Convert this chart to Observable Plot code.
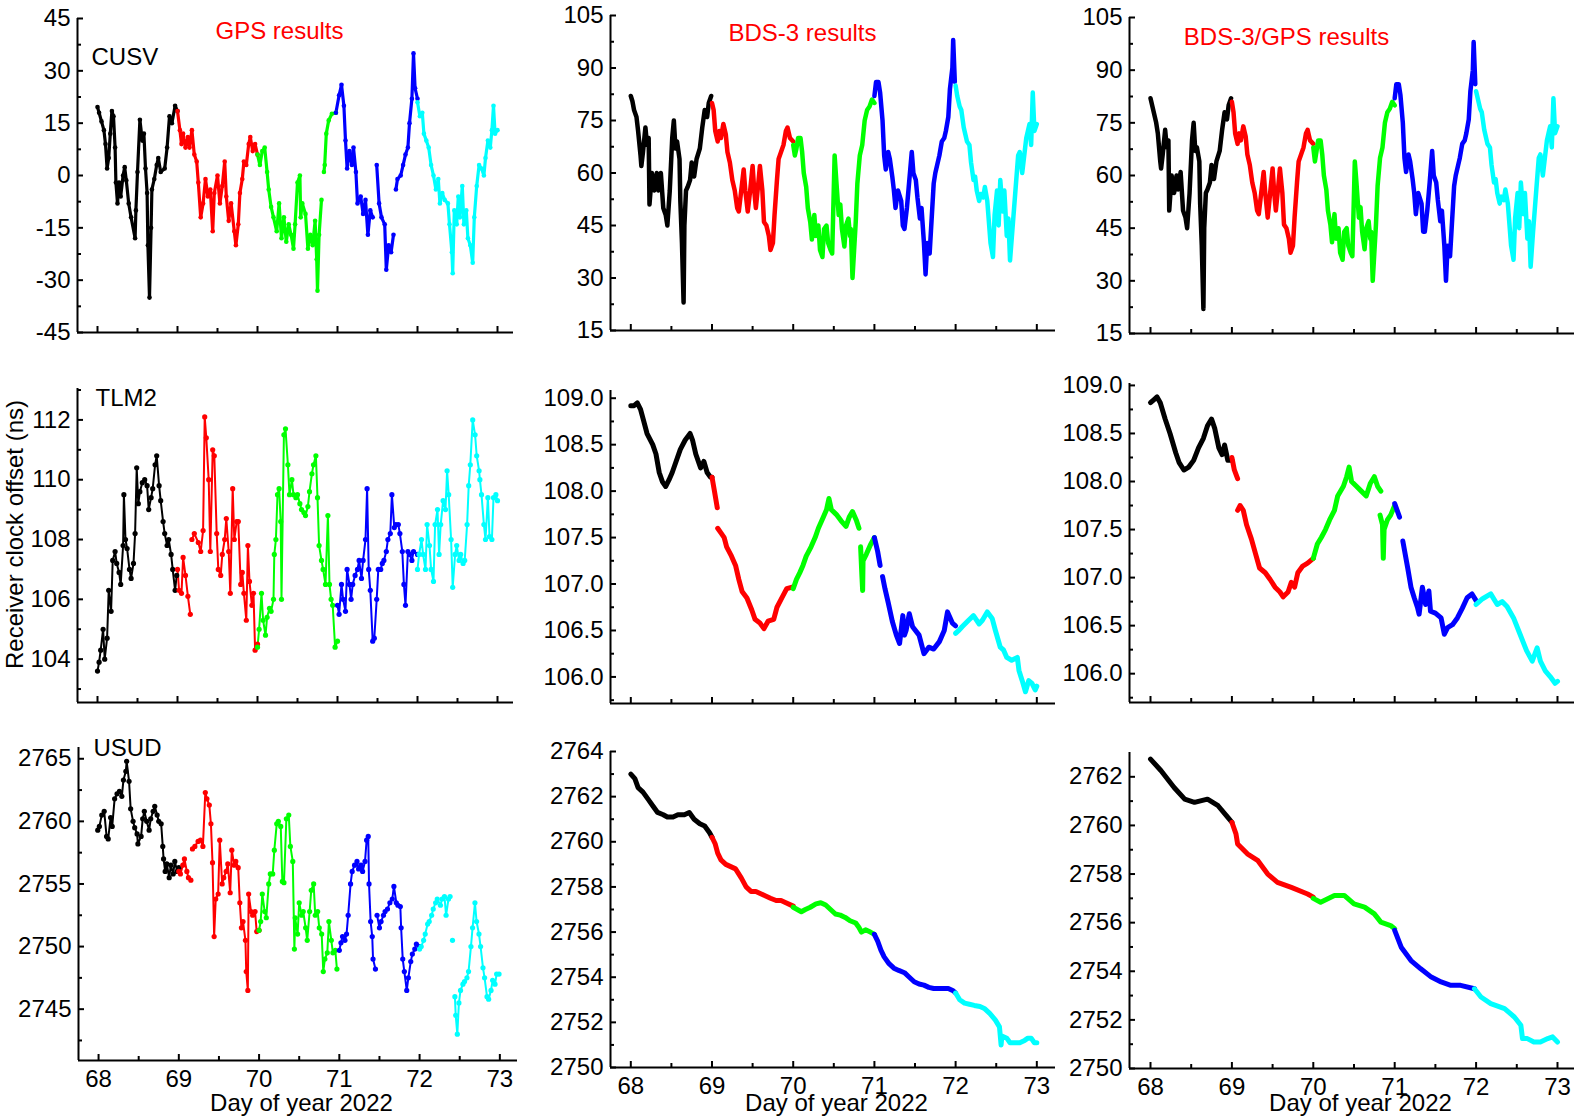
<!DOCTYPE html>
<html>
<head>
<meta charset="utf-8">
<script src="https://cdn.jsdelivr.net/npm/d3@7"></script>
<script src="https://cdn.jsdelivr.net/npm/@observablehq/plot@0.6"></script>
<style>
  body { margin: 0; background: #fff; }
  #root { position: relative; width: 1594px; height: 1120px; overflow: hidden; font-family: "Liberation Sans", Arial, sans-serif; }
  .panel { position: absolute; }
</style>
</head>
<body>
<div id="root"></div>
<script>
// ---------- categories / labels ----------
const segmentColors = ["#000000", "#ff0000", "#00ff00", "#0000ff", "#00ffff"];
const columnTitles = ["GPS results", "BDS-3 results", "BDS-3/GPS results"];
const stationNames = ["CUSV", "TLM2", "USUD"];
const xAxisTitle = "Day of year 2022";
const yAxisTitle = "Receiver clock offset (ns)";

// ---------- tick values ----------
const xMajor = [68, 69, 70, 71, 72, 73];
const xMinor = [68.5, 69.5, 70.5, 71.5, 72.5];
const cusvGpsTicks = [-45, -30, -15, 0, 15, 30, 45];
const cusvGpsMinor = [-37.5, -22.5, -7.5, 7.5, 22.5, 37.5];
const cusvBdsTicks = [15, 30, 45, 60, 75, 90, 105];
const cusvBdsMinor = [22.5, 37.5, 52.5, 67.5, 82.5, 97.5];
const tlm2GpsTicks = [104, 106, 108, 110, 112];
const tlm2GpsMinor = [103, 105, 107, 109, 111, 113];
const tlm2BdsTicks = [106.0, 106.5, 107.0, 107.5, 108.0, 108.5, 109.0];
const tlm2BdsMinor = [105.75, 106.25, 106.75, 107.25, 107.75, 108.25, 108.75];
const usudGpsTicks = [2745, 2750, 2755, 2760, 2765];
const usudGpsMinor = [2742.5, 2747.5, 2752.5, 2757.5, 2762.5];
const usudBdsTicks = [2750, 2752, 2754, 2756, 2758, 2760, 2762, 2764];
const usudBdsMinor = [2751, 2753, 2755, 2757, 2759, 2761, 2763];
const usudMixTicks = [2750, 2752, 2754, 2756, 2758, 2760, 2762];
const usudMixMinor = [2751, 2753, 2755, 2757, 2759, 2761];

// ---------- series: [day, clock offset (ns)], one list per day (colour) ----------
const cusvGps = [
 [[68.0,19.6],[68.02,18],[68.05,15.5],[68.08,13],[68.10,9],[68.12,2],[68.14,5],[68.16,12],[68.18,18.5],[68.20,17],[68.22,8],[68.23,-2],[68.25,-8],[68.27,-2],[68.29,-6],[68.32,0],[68.34,2.4],[68.36,-1.4],[68.39,-8],[68.42,-12],[68.47,-18],[68.48,-10],[68.50,1],[68.53,16],[68.56,10],[68.58,12],[68.60,2],[68.62,-5],[68.63,-20],[68.65,-35],[68.67,-15],[68.68,-4],[68.71,-1],[68.74,3],[68.76,5],[68.79,1],[68.84,2],[68.87,8],[68.90,17],[68.93,15],[68.97,20],[69.0,18.5]],
 [[69.0,18.5],[69.03,13],[69.05,9],[69.07,12],[69.10,8],[69.13,11],[69.15,8],[69.18,13],[69.21,6],[69.24,4],[69.26,-2],[69.29,-12],[69.32,-8],[69.35,-1],[69.38,-6],[69.41,-4],[69.44,-16],[69.46,-5],[69.50,0],[69.53,-8],[69.56,-3],[69.59,4],[69.61,-6],[69.64,-13],[69.67,-8],[69.71,-16],[69.73,-20],[69.76,-14],[69.78,-5],[69.81,-1],[69.83,4],[69.86,3],[69.89,9],[69.91,11],[69.94,7],[69.97,9],[70.0,6]],
 [[70.0,6],[70.03,3],[70.06,7],[70.09,8],[70.12,1],[70.14,-4],[70.17,-9],[70.20,-12],[70.24,-16],[70.27,-8],[70.30,-18],[70.33,-12],[70.36,-19],[70.39,-14],[70.42,-17],[70.45,-21],[70.47,-14],[70.50,-2],[70.53,0],[70.54,-12],[70.56,-8],[70.60,-11],[70.63,-21],[70.66,-17],[70.69,-20],[70.72,-13],[70.74,-24],[70.75,-33],[70.77,-17],[70.80,-7],[70.81,null],[70.83,1],[70.84,3],[70.86,12],[70.89,15.8],[70.93,17.7],[70.98,18]],
 [[70.98,18],[71.02,23],[71.05,26],[71.08,20],[71.10,10],[71.12,2],[71.15,7],[71.18,3],[71.20,8],[71.23,1],[71.25,-8],[71.29,-6],[71.32,-11],[71.35,-7],[71.38,-17],[71.41,-10],[71.44,-12],[71.47,null],[71.49,3],[71.52,-8],[71.55,-12],[71.59,-14],[71.61,-27],[71.64,-20],[71.67,-22],[71.70,-17],[71.71,null],[71.73,-4],[71.75,-1],[71.79,0],[71.82,3],[71.85,6],[71.88,8],[71.90,15],[71.93,22],[71.95,35],[71.97,25],[72.0,22]],
 [[72.0,21],[72.03,17],[72.06,18],[72.08,12],[72.11,10],[72.14,8],[72.17,3],[72.20,0],[72.23,-4],[72.26,-1],[72.28,-8],[72.31,-5],[72.34,-7],[72.38,-8],[72.40,-14],[72.43,-22],[72.44,-28],[72.46,-10],[72.49,-14],[72.51,-6],[72.53,-12],[72.56,-3],[72.58,-14],[72.61,-10],[72.63,-18],[72.66,-20],[72.69,-25],[72.71,-12],[72.74,-3],[72.77,3],[72.80,2],[72.83,0],[72.85,5],[72.88,10],[72.91,8],[72.93,13],[72.95,20],[72.97,12],[73.0,13]]
];

const cusvBds = [
 [[68.0,82],[68.02,80.5],[68.04,78],[68.07,76],[68.09,72],[68.12,65],[68.13,62],[68.15,66],[68.18,73],[68.20,68],[68.22,70],[68.23,51],[68.26,60],[68.29,55],[68.32,60],[68.34,55],[68.37,60],[68.40,50],[68.43,48],[68.45,45],[68.48,55],[68.51,70],[68.53,75],[68.55,67],[68.57,69],[68.60,64],[68.61,52],[68.63,40],[68.65,23],[68.66,45],[68.68,55],[68.70,56],[68.73,58],[68.75,63],[68.78,59],[68.81,64],[68.85,67],[68.88,73],[68.91,78],[68.94,76],[68.96,80],[68.99,82]],
 [[69.0,80],[69.02,78],[69.04,72],[69.07,69],[69.09,72],[69.11,70],[69.14,74],[69.17,71],[69.19,66],[69.22,63],[69.25,58],[69.28,55],[69.31,50],[69.33,49],[69.36,55],[69.39,61],[69.41,55],[69.44,49],[69.47,55],[69.50,62],[69.52,55],[69.54,50],[69.57,57],[69.59,62],[69.62,55],[69.64,46],[69.67,45],[69.70,42],[69.72,38],[69.75,40],[69.77,48],[69.80,58],[69.82,64],[69.85,66],[69.88,68],[69.91,72],[69.93,73],[69.96,70],[70.0,69]],
 [[70.0,68],[70.02,65],[70.04,67],[70.06,70],[70.09,70],[70.11,66],[70.13,60],[70.16,56],[70.18,50],[70.21,46],[70.23,41],[70.26,48],[70.28,42],[70.31,45],[70.33,38],[70.36,36],[70.38,44],[70.41,45],[70.43,40],[70.46,38],[70.48,37],[70.51,65],[70.53,58],[70.56,48],[70.58,51],[70.60,44],[70.63,39],[70.65,45],[70.68,47],[70.70,42],[70.71,44],[70.73,30],[70.77,46],[70.79,57],[70.82,65],[70.85,68],[70.88,75],[70.91,78],[70.94,79],[70.97,81],[71.0,80]],
 [[71.0,82],[71.02,86],[71.05,86],[71.07,83],[71.10,75],[71.12,65],[71.14,61],[71.17,66],[71.19,64],[71.22,59],[71.24,55],[71.26,50],[71.29,55],[71.33,52],[71.35,45],[71.37,44],[71.40,50],[71.43,58],[71.46,66],[71.48,60],[71.51,58],[71.53,53],[71.56,47],[71.58,50],[71.61,40],[71.63,31],[71.65,40],[71.68,37],[71.70,45],[71.73,57],[71.75,60],[71.78,63],[71.80,65],[71.83,69],[71.86,70],[71.88,72],[71.91,76],[71.93,84],[71.96,90],[71.97,98],[71.99,86]],
 [[72.0,85],[72.02,82],[72.05,79],[72.07,78],[72.10,73],[72.12,71],[72.14,69],[72.17,68],[72.19,63],[72.22,58],[72.24,59],[72.26,55],[72.29,52],[72.31,54],[72.34,53],[72.36,56],[72.39,52],[72.41,46],[72.43,40],[72.46,36],[72.48,48],[72.51,55],[72.53,45],[72.55,58],[72.58,49],[72.60,55],[72.63,42],[72.65,47],[72.67,35],[72.70,44],[72.72,50],[72.74,56],[72.77,65],[72.79,66],[72.82,60],[72.84,64],[72.87,70],[72.89,72],[72.91,74],[72.93,68],[72.95,83],[72.97,72],[73.0,74]]
];

const cusvMix = [
 [[68.0,82],[68.02,80],[68.04,78],[68.07,75],[68.09,72],[68.12,64],[68.13,62],[68.15,66],[68.18,73],[68.20,68],[68.22,70],[68.23,50],[68.26,60],[68.29,55],[68.32,60],[68.34,56],[68.37,61],[68.40,50],[68.43,48],[68.45,45],[68.48,55],[68.51,70],[68.53,75],[68.55,67],[68.57,68],[68.60,64],[68.61,52],[68.63,40],[68.65,22],[68.66,45],[68.68,55],[68.70,56],[68.73,58],[68.75,63],[68.78,59],[68.81,64],[68.85,67],[68.88,73],[68.91,78],[68.94,76],[68.96,80],[68.99,82]],
 [[69.0,81],[69.02,78],[69.04,72],[69.07,69],[69.09,72],[69.11,70],[69.14,74],[69.17,71],[69.19,66],[69.22,63],[69.25,58],[69.28,55],[69.31,50],[69.33,49],[69.36,55],[69.39,61],[69.41,55],[69.44,48],[69.47,55],[69.50,62],[69.52,55],[69.54,50],[69.57,57],[69.59,62],[69.62,55],[69.64,46],[69.67,45],[69.70,42],[69.72,38],[69.75,40],[69.77,48],[69.80,58],[69.82,64],[69.85,66],[69.88,68],[69.91,72],[69.93,73],[69.96,70],[70.0,69]],
 [[70.0,68],[70.02,64],[70.04,67],[70.06,70],[70.09,70],[70.11,66],[70.13,60],[70.16,56],[70.18,50],[70.21,46],[70.23,41],[70.26,49],[70.28,42],[70.31,45],[70.33,38],[70.36,36],[70.38,44],[70.41,45],[70.43,40],[70.46,38],[70.48,37],[70.51,64],[70.53,58],[70.56,48],[70.58,51],[70.60,44],[70.63,39],[70.65,45],[70.68,47],[70.70,42],[70.71,44],[70.73,30],[70.77,46],[70.79,57],[70.82,65],[70.85,68],[70.88,75],[70.91,78],[70.94,79],[70.97,81],[71.0,80]],
 [[71.0,82],[71.02,86],[71.05,86],[71.07,83],[71.10,75],[71.12,65],[71.14,61],[71.17,66],[71.19,64],[71.22,59],[71.24,55],[71.26,49],[71.29,55],[71.33,52],[71.35,44],[71.37,44],[71.40,50],[71.43,58],[71.46,67],[71.48,60],[71.51,58],[71.53,53],[71.56,47],[71.58,50],[71.61,40],[71.63,30],[71.65,40],[71.68,37],[71.70,45],[71.73,57],[71.75,60],[71.78,63],[71.80,65],[71.83,69],[71.86,70],[71.88,72],[71.91,76],[71.93,84],[71.96,90],[71.97,98],[71.99,86]],
 [[72.0,84],[72.02,82],[72.05,79],[72.07,78],[72.10,73],[72.12,71],[72.14,69],[72.17,68],[72.19,63],[72.22,58],[72.24,59],[72.26,55],[72.29,52],[72.31,54],[72.34,53],[72.36,56],[72.39,52],[72.41,46],[72.43,40],[72.46,36],[72.48,48],[72.51,55],[72.53,45],[72.55,58],[72.58,49],[72.60,55],[72.63,42],[72.65,47],[72.67,34],[72.70,44],[72.72,50],[72.74,56],[72.77,65],[72.79,66],[72.82,60],[72.84,64],[72.87,70],[72.89,72],[72.91,74],[72.93,68],[72.95,82],[72.97,72],[73.0,74]]
];

const tlm2Gps = [
 [[68.0,103.6],[68.02,103.9],[68.04,104.3],[68.07,105.0],[68.09,104.0],[68.12,104.7],[68.14,106.3],[68.17,105.6],[68.19,107.3],[68.22,107.6],[68.24,107.2],[68.27,106.9],[68.29,106.5],[68.32,107.8],[68.33,109.5],[68.35,108.0],[68.37,107.7],[68.40,107.0],[68.42,106.7],[68.45,107.2],[68.47,108.2],[68.49,110.4],[68.51,109.2],[68.53,109.6],[68.56,109.9],[68.59,110.0],[68.62,109.8],[68.64,109.0],[68.67,109.4],[68.69,109.7],[68.72,110.5],[68.74,110.8],[68.77,109.8],[68.79,109.3],[68.82,108.6],[68.84,108.2],[68.87,107.8],[68.89,108.0],[68.92,107.5],[68.94,107.0],[68.97,106.3],[68.99,106.8]],
 [[69.0,107.0],[69.02,106.3],[69.05,106.2],[69.07,107.4],[69.10,106.8],[69.13,106.1],[69.16,105.5],[69.17,null],[69.18,108.0],[69.21,108.2],[69.26,107.9],[69.29,107.6],[69.32,108.3],[69.34,112.1],[69.36,111.4],[69.39,110.0],[69.41,107.6],[69.44,111.0],[69.46,110.8],[69.49,108.2],[69.51,107.0],[69.54,106.8],[69.56,107.5],[69.59,108.0],[69.61,108.7],[69.64,107.6],[69.66,106.2],[69.69,109.7],[69.71,108.0],[69.74,108.6],[69.76,108.6],[69.79,106.5],[69.81,106.9],[69.83,106.2],[69.86,105.3],[69.88,107.8],[69.90,106.6],[69.93,105.8],[69.95,106.2],[69.97,104.3],[70.0,104.5]],
 [[70.0,104.4],[70.02,105.0],[70.05,106.2],[70.07,105.3],[70.10,104.8],[70.12,105.4],[70.15,105.7],[70.17,105.6],[70.20,106.0],[70.21,107.5],[70.23,108.0],[70.25,109.5],[70.27,109.7],[70.29,108.6],[70.30,106.0],[70.33,111.5],[70.35,111.7],[70.38,110.5],[70.40,109.5],[70.43,110.0],[70.45,109.5],[70.48,109.4],[70.50,109.5],[70.53,109.2],[70.55,109.0],[70.58,108.9],[70.60,108.8],[70.63,109.1],[70.65,109.6],[70.68,110.2],[70.70,110.5],[70.73,110.8],[70.75,109.4],[70.77,107.8],[70.80,107.3],[70.82,107.0],[70.85,106.5],[70.88,108.8],[70.90,106.5],[70.92,106.0],[70.94,105.8],[70.97,104.4],[71.0,104.6]],
 [[71.0,105.8],[71.02,105.5],[71.05,106.5],[71.07,106.0],[71.10,105.6],[71.12,107.0],[71.15,106.5],[71.17,106.0],[71.19,106.5],[71.22,106.8],[71.25,107.0],[71.27,107.3],[71.30,106.7],[71.32,107.3],[71.35,108.0],[71.37,109.7],[71.39,107.0],[71.41,106.3],[71.44,104.6],[71.46,104.7],[71.49,106.0],[71.51,107.0],[71.54,107.0],[71.56,107.2],[71.58,107.3],[71.61,107.6],[71.63,108.0],[71.66,108.2],[71.68,109.5],[71.71,108.4],[71.73,108.5],[71.76,108.5],[71.78,108.2],[71.81,107.6],[71.83,106.5],[71.85,105.8],[71.88,107.6],[71.90,107.5],[71.93,107.3],[71.95,107.6],[72.0,107.5]],
 [[72.0,107.0],[72.02,107.5],[72.05,108.0],[72.07,107.5],[72.10,107.0],[72.12,108.5],[72.15,107.8],[72.17,107.0],[72.20,106.6],[72.22,108.5],[72.25,109.0],[72.27,107.5],[72.29,108.5],[72.32,109.3],[72.35,109.0],[72.37,110.3],[72.39,109.5],[72.42,108.0],[72.44,106.4],[72.47,107.5],[72.49,107.8],[72.52,107.3],[72.54,107.5],[72.57,107.2],[72.59,107.3],[72.62,108.5],[72.64,109.8],[72.66,110.5],[72.69,112.0],[72.72,111.5],[72.74,110.8],[72.77,110.3],[72.78,110.0],[72.80,109.5],[72.83,108.5],[72.85,108.0],[72.88,109.4],[72.90,108.1],[72.93,108.0],[72.95,109.4],[72.98,109.5],[73.0,109.3]]
];

const tlm2Bds = [
 [[68.0,108.92],[68.04,108.92],[68.08,108.95],[68.12,108.88],[68.16,108.75],[68.20,108.62],[68.27,108.5],[68.31,108.4],[68.35,108.2],[68.39,108.1],[68.43,108.05],[68.47,108.12],[68.51,108.2],[68.55,108.3],[68.61,108.45],[68.67,108.55],[68.73,108.62],[68.76,108.55],[68.80,108.4],[68.86,108.25],[68.90,108.32],[68.94,108.2],[68.98,108.15],[69.0,108.15]],
 [[69.0,108.15],[69.03,108.0],[69.065,107.82],[69.07,null],[69.07,107.6],[69.11,107.55],[69.15,107.5],[69.18,107.4],[69.24,107.3],[69.29,107.2],[69.33,107.05],[69.37,106.92],[69.43,106.85],[69.49,106.72],[69.53,106.62],[69.59,106.58],[69.64,106.52],[69.69,106.6],[69.76,106.62],[69.80,106.75],[69.86,106.85],[69.92,106.95],[70.0,106.97]],
 [[70.0,106.95],[70.04,107.05],[70.08,107.12],[70.12,107.2],[70.16,107.3],[70.22,107.4],[70.27,107.5],[70.31,107.6],[70.37,107.72],[70.41,107.8],[70.44,107.92],[70.47,107.8],[70.53,107.75],[70.59,107.68],[70.65,107.62],[70.69,107.72],[70.73,107.78],[70.78,107.68],[70.81,107.6],[70.82,null],[70.83,107.4],[70.845,107.1],[70.855,106.93],[70.86,107.25],[70.90,107.32],[70.95,107.42],[71.0,107.5]],
 [[71.0,107.5],[71.04,107.35],[71.07,107.2],[71.08,null],[71.1,107.08],[71.13,106.95],[71.17,106.8],[71.22,106.6],[71.27,106.45],[71.31,106.36],[71.35,106.66],[71.37,106.45],[71.39,106.5],[71.43,106.68],[71.47,106.54],[71.55,106.45],[71.61,106.25],[71.67,106.32],[71.73,106.3],[71.80,106.38],[71.86,106.5],[71.90,106.7],[71.96,106.58],[72.0,106.55]],
 [[72.0,106.47],[72.04,106.5],[72.08,106.54],[72.16,106.61],[72.22,106.66],[72.29,106.57],[72.33,106.61],[72.39,106.7],[72.45,106.63],[72.49,106.5],[72.55,106.32],[72.59,106.29],[72.63,106.21],[72.69,106.18],[72.76,106.21],[72.78,106.07],[72.82,105.96],[72.86,105.84],[72.90,105.96],[72.94,105.93],[72.98,105.86],[73.0,105.9]]
];

const tlm2Mix = [
 [[68.0,108.82],[68.04,108.85],[68.08,108.88],[68.12,108.82],[68.18,108.65],[68.24,108.5],[68.31,108.3],[68.35,108.2],[68.41,108.12],[68.47,108.15],[68.53,108.22],[68.59,108.35],[68.65,108.45],[68.70,108.58],[68.75,108.65],[68.79,108.55],[68.84,108.35],[68.88,108.28],[68.91,108.38],[68.95,108.22],[69.0,108.22]],
 [[69.0,108.25],[69.03,108.12],[69.07,108.03],[69.075,null],[69.07,107.7],[69.10,107.75],[69.14,107.7],[69.18,107.55],[69.24,107.4],[69.29,107.25],[69.34,107.1],[69.41,107.05],[69.47,106.98],[69.53,106.9],[69.59,106.85],[69.63,106.8],[69.69,106.85],[69.73,106.95],[69.77,106.9],[69.81,107.05],[69.87,107.12],[69.93,107.15],[70.0,107.2]],
 [[70.0,107.2],[70.05,107.35],[70.10,107.42],[70.15,107.5],[70.20,107.6],[70.26,107.7],[70.30,107.85],[70.37,107.95],[70.41,108.05],[70.44,108.15],[70.47,108.0],[70.53,107.95],[70.59,107.9],[70.65,107.85],[70.70,107.98],[70.75,108.05],[70.79,107.95],[70.83,107.9],[70.835,null],[70.82,107.65],[70.85,107.55],[70.86,107.2],[70.87,107.5],[70.91,107.6],[70.95,107.65],[71.0,107.75]],
 [[71.0,107.77],[71.06,107.63],[71.08,null],[71.10,107.38],[71.16,107.1],[71.20,106.9],[71.24,106.79],[71.28,106.69],[71.30,106.62],[71.34,106.9],[71.38,106.72],[71.42,106.86],[71.44,106.65],[71.50,106.63],[71.57,106.58],[71.61,106.41],[71.65,106.48],[71.71,106.51],[71.77,106.58],[71.83,106.68],[71.89,106.79],[71.95,106.83],[72.0,106.76]],
 [[72.0,106.72],[72.08,106.78],[72.18,106.83],[72.26,106.72],[72.32,106.75],[72.38,106.7],[72.46,106.58],[72.54,106.41],[72.62,106.24],[72.69,106.13],[72.75,106.27],[72.79,106.13],[72.85,106.03],[72.91,105.97],[72.97,105.9],[73.0,105.92]]
];

const usudGps = [
 [[67.99,2759.3],[68.01,2759.6],[68.04,2760.5],[68.07,2760.8],[68.10,2758.8],[68.12,2758.6],[68.15,2760.3],[68.17,2759.6],[68.20,2761.8],[68.23,2762.2],[68.26,2762.4],[68.29,2762.0],[68.31,2763.3],[68.34,2764.0],[68.35,2764.8],[68.38,2763.2],[68.40,2761.0],[68.43,2760.0],[68.45,2759.5],[68.48,2759.0],[68.49,2758.2],[68.53,2758.8],[68.55,2760.2],[68.57,2760.8],[68.60,2760.0],[68.63,2759.3],[68.65,2760.2],[68.68,2760.8],[68.70,2761.2],[68.73,2760.5],[68.75,2760.0],[68.78,2759.8],[68.80,2758.0],[68.81,2757.0],[68.83,2756.0],[68.85,2756.6],[68.88,2755.5],[68.90,2756.5],[68.93,2755.8],[68.95,2756.8],[68.98,2756.0],[69.0,2756.3]],
 [[69.0,2756.0],[69.02,2755.8],[69.05,2756.5],[69.07,2757.0],[69.10,2756.0],[69.12,2755.5],[69.15,2755.3],[69.16,null],[69.17,2757.8],[69.20,2758.0],[69.24,2758.4],[69.27,2758.5],[69.30,2758.0],[69.33,2762.3],[69.35,2761.8],[69.38,2761.3],[69.40,2759.8],[69.42,2756.7],[69.44,2750.8],[69.46,2753.8],[69.49,2754.2],[69.51,2758.5],[69.54,2755.0],[69.56,2755.5],[69.59,2756.0],[69.61,2756.6],[69.64,2754.3],[69.66,2757.7],[69.69,2756.5],[69.71,2756.8],[69.74,2756.3],[69.76,2753.5],[69.78,2751.5],[69.80,2752.0],[69.83,2750.5],[69.84,2748.0],[69.86,2746.5],[69.87,2754.2],[69.90,2752.8],[69.92,2752.5],[69.95,2752.8],[69.97,2751.2],[70.0,2751.3]],
 [[70.0,2751.3],[70.02,2752.0],[70.04,2754.2],[70.07,2752.8],[70.09,2752.3],[70.12,2755.0],[70.14,2755.8],[70.17,2755.8],[70.19,2757.7],[70.22,2759.8],[70.24,2760.0],[70.27,2759.6],[70.29,2755.2],[70.31,2755.1],[70.34,2760.2],[70.37,2760.5],[70.39,2758.0],[70.42,2756.8],[70.44,2749.8],[70.45,2752.3],[70.48,2751.0],[70.50,2753.5],[70.53,2752.5],[70.55,2752.8],[70.58,2751.5],[70.60,2750.5],[70.63,2752.8],[70.65,2754.5],[70.68,2755.0],[70.70,2752.5],[70.73,2752.8],[70.75,2751.5],[70.78,2751.0],[70.80,2748.0],[70.82,2749.0],[70.85,2749.5],[70.87,2752.0],[70.90,2750.5],[70.92,2749.5],[70.95,2749.7],[70.97,2748.2]],
 [[71.0,2749.7],[71.02,2750.3],[71.04,2750.8],[71.07,2750.5],[71.09,2751.0],[71.11,2752.5],[71.14,2755.0],[71.16,2756.0],[71.19,2756.5],[71.22,2756.8],[71.24,2756.2],[71.27,2756.5],[71.29,2756.0],[71.32,2756.8],[71.34,2758.5],[71.36,2758.8],[71.37,2755.0],[71.39,2752.0],[71.41,2750.8],[71.42,2749.0],[71.45,2748.2],[71.46,null],[71.47,2752.5],[71.50,2751.5],[71.52,2752.0],[71.55,2752.5],[71.57,2752.8],[71.60,2753.0],[71.63,2753.5],[71.66,2753.8],[71.68,2754.8],[71.71,2753.5],[71.73,2753.3],[71.76,2753.2],[71.77,2751.5],[71.79,2749.0],[71.81,2748.0],[71.84,2746.5],[71.86,2747.5],[71.89,2748.8],[71.91,2749.4],[71.94,2749.8],[71.96,2750.2],[72.0,2750.0]],
 [[72.0,2749.8],[72.02,2750.0],[72.05,2750.5],[72.07,2751.0],[72.10,2751.8],[72.12,2752.0],[72.15,2752.5],[72.17,2753.0],[72.20,2753.5],[72.22,2753.8],[72.26,2753.3],[72.28,2753.8],[72.31,2754.0],[72.33,2752.5],[72.36,2753.8],[72.38,2754.0],[72.39,null],[72.41,2750.5],[72.42,null],[72.44,2746.0],[72.45,2744.5],[72.47,2743.0],[72.49,2745.5],[72.51,2746.5],[72.54,2747.0],[72.56,2747.2],[72.59,2747.5],[72.61,2748.0],[72.64,2750.0],[72.66,2751.5],[72.69,2753.5],[72.71,2752.0],[72.74,2751.0],[72.76,2750.0],[72.79,2748.3],[72.81,2747.5],[72.84,2746.0],[72.86,2745.8],[72.89,2746.5],[72.91,2747.3],[72.94,2747.0],[72.96,2747.8],[72.99,2747.8]]
];

const usudBds = [
 [[68.0,2763.0],[68.05,2762.8],[68.09,2762.4],[68.15,2762.2],[68.21,2761.9],[68.27,2761.6],[68.33,2761.3],[68.40,2761.2],[68.45,2761.1],[68.52,2761.1],[68.58,2761.2],[68.66,2761.2],[68.72,2761.3],[68.78,2761.0],[68.85,2760.8],[68.91,2760.7],[68.97,2760.4],[69.0,2760.2]],
 [[69.0,2760.2],[69.04,2759.9],[69.07,2759.5],[69.11,2759.2],[69.17,2759.0],[69.23,2758.9],[69.29,2758.8],[69.36,2758.4],[69.42,2758.0],[69.48,2757.8],[69.54,2757.8],[69.60,2757.7],[69.66,2757.6],[69.72,2757.5],[69.79,2757.4],[69.85,2757.4],[69.91,2757.3],[70.0,2757.15]],
 [[70.0,2757.1],[70.05,2757.0],[70.10,2756.9],[70.15,2757.0],[70.21,2757.1],[70.28,2757.25],[70.34,2757.3],[70.40,2757.2],[70.46,2757.0],[70.52,2756.8],[70.58,2756.75],[70.64,2756.65],[70.70,2756.5],[70.77,2756.4],[70.81,2756.2],[70.84,2756.0],[70.89,2756.1],[70.95,2756.0],[71.0,2755.9]],
 [[71.0,2755.9],[71.04,2755.6],[71.08,2755.2],[71.12,2754.9],[71.18,2754.6],[71.24,2754.4],[71.30,2754.3],[71.37,2754.2],[71.43,2754.0],[71.49,2753.8],[71.55,2753.7],[71.61,2753.65],[71.67,2753.55],[71.73,2753.5],[71.79,2753.5],[71.85,2753.5],[71.91,2753.5],[71.97,2753.4],[72.0,2753.3]],
 [[72.0,2753.3],[72.05,2753.0],[72.11,2752.85],[72.17,2752.8],[72.23,2752.75],[72.30,2752.7],[72.36,2752.6],[72.42,2752.4],[72.49,2752.1],[72.54,2751.8],[72.56,2751.0],[72.57,2751.4],[72.63,2751.3],[72.67,2751.1],[72.73,2751.1],[72.79,2751.1],[72.85,2751.2],[72.89,2751.3],[72.93,2751.3],[72.97,2751.1],[73.0,2751.1]]
];

const usudMix = [
 [[68.0,2762.73],[68.13,2762.25],[68.29,2761.56],[68.42,2761.08],[68.54,2760.95],[68.70,2761.08],[68.83,2760.81],[68.95,2760.33],[69.0,2760.13]],
 [[69.0,2760.13],[69.05,2759.65],[69.07,2759.24],[69.19,2758.83],[69.32,2758.55],[69.44,2758.0],[69.56,2757.66],[69.73,2757.45],[69.93,2757.18],[70.0,2757.05]],
 [[70.0,2757.0],[70.09,2756.84],[70.26,2757.12],[70.38,2757.12],[70.50,2756.77],[70.63,2756.64],[70.75,2756.36],[70.83,2756.02],[70.95,2755.88],[71.0,2755.75]],
 [[71.0,2755.68],[71.08,2754.99],[71.20,2754.44],[71.32,2754.1],[71.45,2753.76],[71.57,2753.56],[71.69,2753.42],[71.81,2753.42],[71.98,2753.28]],
 [[71.98,2753.28],[72.06,2752.94],[72.18,2752.67],[72.35,2752.46],[72.47,2752.12],[72.55,2751.78],[72.57,2751.23],[72.63,2751.23],[72.71,2751.09],[72.79,2751.09],[72.88,2751.23],[72.94,2751.3],[73.0,2751.09]]
];

// ---------- layout (pixel placement of each panel frame) ----------
const panels = [
  {series: cusvGps, ax: 77, y0: 18, y1: 332, len: 436, xd: [67.75, 73.2], yd: [-45, 45], major: cusvGpsTicks, minor: cusvGpsMinor, fmt: d => String(d), style: "dots",
   station: {text: stationNames[0], dx: 14, dy: 39}, title: {text: columnTitles[0], dx: 202, dy: 13}},
  {series: cusvBds, ax: 610, y0: 15, y1: 330, len: 445, xd: [67.75, 73.23], yd: [15, 105], major: cusvBdsTicks, minor: cusvBdsMinor, fmt: d => String(d), style: "thick",
   title: {text: columnTitles[1], dx: 192, dy: 18}},
  {series: cusvMix, ax: 1129, y0: 17, y1: 333, len: 445, xd: [67.742, 73.209], yd: [15, 105], major: cusvBdsTicks, minor: cusvBdsMinor, fmt: d => String(d), style: "thick",
   title: {text: columnTitles[2], dx: 157, dy: 20}},
  {series: tlm2Gps, ax: 77, y0: 388, y1: 702, len: 436, xd: [67.75, 73.2], yd: [102.55, 113.05], major: tlm2GpsTicks, minor: tlm2GpsMinor, fmt: d => String(d), style: "cloud",
   station: {text: stationNames[1], dx: 18, dy: 10}, ytitle: {text: yAxisTitle, dx: -62, dy: 146}},
  {series: tlm2Bds, ax: 610, y0: 390, y1: 703, len: 445, xd: [67.75, 73.23], yd: [105.714, 109.083], major: tlm2BdsTicks, minor: tlm2BdsMinor, fmt: d3.format(".1f"), style: "smooth"},
  {series: tlm2Mix, ax: 1129, y0: 383, y1: 702, len: 445, xd: [67.742, 73.209], yd: [105.70, 109.02], major: tlm2BdsTicks, minor: tlm2BdsMinor, fmt: d3.format(".1f"), style: "smooth"},
  {series: usudGps, ax: 78, y0: 747, y1: 1060, len: 439, xd: [67.75, 73.22], yd: [2740.9, 2765.9], major: usudGpsTicks, minor: usudGpsMinor, fmt: d => String(d), style: "cloud",
   station: {text: stationNames[2], dx: 15, dy: 1}, xtitle: {dx: 223, dy: 43}},
  {series: usudBds, ax: 610, y0: 751, y1: 1067, len: 445, xd: [67.75, 73.23], yd: [2750, 2764], major: usudBdsTicks, minor: usudBdsMinor, fmt: d => String(d), style: "smooth",
   xtitle: {dx: 226, dy: 36}},
  {series: usudMix, ax: 1129, y0: 752, y1: 1068, len: 445, xd: [67.742, 73.209], yd: [2750, 2763], major: usudMixTicks, minor: usudMixMinor, fmt: d => String(d), style: "smooth",
   xtitle: {dx: 231, dy: 35}}
];

const FONT = "'Liberation Sans', Arial, Helvetica, sans-serif";
const root = document.getElementById("root");

function buildPanel(p) {
  const mL = 80, mR = 14, mT = 30, mB = p.xtitle ? 70 : 12;
  const width = mL + p.len + mR;
  const height = mT + (p.y1 - p.y0) + mB;
  const rows = p.series.flatMap((seg, i) => seg.map(([d, v]) => ({d, v, c: segmentColors[i], s: i})));
  const defined = rows.filter(r => r.v != null);

  const marks = [];
  if (p.style === "thick") {
    marks.push(Plot.line(rows, {x: "d", y: "v", z: "s", stroke: "c", strokeWidth: 4.5, strokeLinejoin: "round", strokeLinecap: "round"}));
  } else if (p.style === "smooth") {
    marks.push(Plot.line(rows, {x: "d", y: "v", z: "s", stroke: "c", strokeWidth: 5, strokeLinejoin: "round", strokeLinecap: "round"}));
  } else if (p.style === "dots") {
    marks.push(Plot.line(rows, {x: "d", y: "v", z: "s", stroke: "c", strokeWidth: 3.2, strokeLinejoin: "round", strokeLinecap: "round"}));
    marks.push(Plot.dot(defined, {x: "d", y: "v", r: 2.3, fill: "c", stroke: null}));
  } else {
    marks.push(Plot.line(rows, {x: "d", y: "v", z: "s", stroke: "c", strokeWidth: 2, strokeLinejoin: "round", strokeLinecap: "round"}));
    marks.push(Plot.dot(defined, {x: "d", y: "v", r: 2.6, fill: "c", stroke: null}));
  }

  // axis frame lines
  marks.push(Plot.ruleX([p.xd[0]], {stroke: "#000", strokeWidth: 2}));
  marks.push(Plot.ruleY([p.yd[0]], {stroke: "#000", strokeWidth: 2}));
  // y ticks (inward) and labels
  marks.push(Plot.axisY(p.major, {anchor: "left", tickSize: 0, tickPadding: 7, tickFormat: p.fmt, fontSize: 24, label: null}));
  marks.push(Plot.axisY(p.major, {anchor: "left", tickSize: -6, tickFormat: () => "", strokeWidth: 2, label: null}));
  marks.push(Plot.axisY(p.minor, {anchor: "left", tickSize: -4, tickFormat: () => "", strokeWidth: 2, label: null}));
  // x ticks (inward)
  marks.push(Plot.axisX(xMajor, {anchor: "bottom", tickSize: -6, tickFormat: () => "", strokeWidth: 2, label: null}));
  marks.push(Plot.axisX(xMinor, {anchor: "bottom", tickSize: -4, tickFormat: () => "", strokeWidth: 2, label: null}));
  if (p.xtitle) {
    marks.push(Plot.axisX(xMajor, {anchor: "bottom", tickSize: 0, tickPadding: 9, tickFormat: d => String(d), fontSize: 24, label: null}));
    marks.push(Plot.text([xAxisTitle], {text: d => d, frameAnchor: "bottom-left", dx: p.xtitle.dx, dy: p.xtitle.dy, textAnchor: "middle", lineAnchor: "middle", fontSize: 24, fill: "#000"}));
  }
  if (p.station) {
    marks.push(Plot.text([p.station.text], {text: d => d, frameAnchor: "top-left", dx: p.station.dx, dy: p.station.dy, textAnchor: "start", lineAnchor: "middle", fontSize: 24, fill: "#000"}));
  }
  if (p.title) {
    marks.push(Plot.text([p.title.text], {text: d => d, frameAnchor: "top-left", dx: p.title.dx, dy: p.title.dy, textAnchor: "middle", lineAnchor: "middle", fontSize: 24, fill: "#ff0000"}));
  }
  if (p.ytitle) {
    marks.push(Plot.text([p.ytitle.text], {text: d => d, frameAnchor: "top-left", dx: p.ytitle.dx, dy: p.ytitle.dy, rotate: -90, textAnchor: "middle", lineAnchor: "middle", fontSize: 24, fill: "#000"}));
  }

  const svg = Plot.plot({
    width, height,
    marginLeft: mL, marginRight: mR, marginTop: mT, marginBottom: mB,
    x: {domain: p.xd, label: null},
    y: {domain: p.yd, label: null},
    color: {type: "identity"},
    style: {fontFamily: FONT, fontSize: "24px", color: "#000", background: "transparent", overflow: "visible"},
    marks
  });
  const div = document.createElement("div");
  div.className = "panel";
  div.style.left = (p.ax - mL) + "px";
  div.style.top = (p.y0 - mT) + "px";
  div.style.width = width + "px";
  div.appendChild(svg);
  root.appendChild(div);
}

panels.forEach(buildPanel);
</script>
</body>
</html>
